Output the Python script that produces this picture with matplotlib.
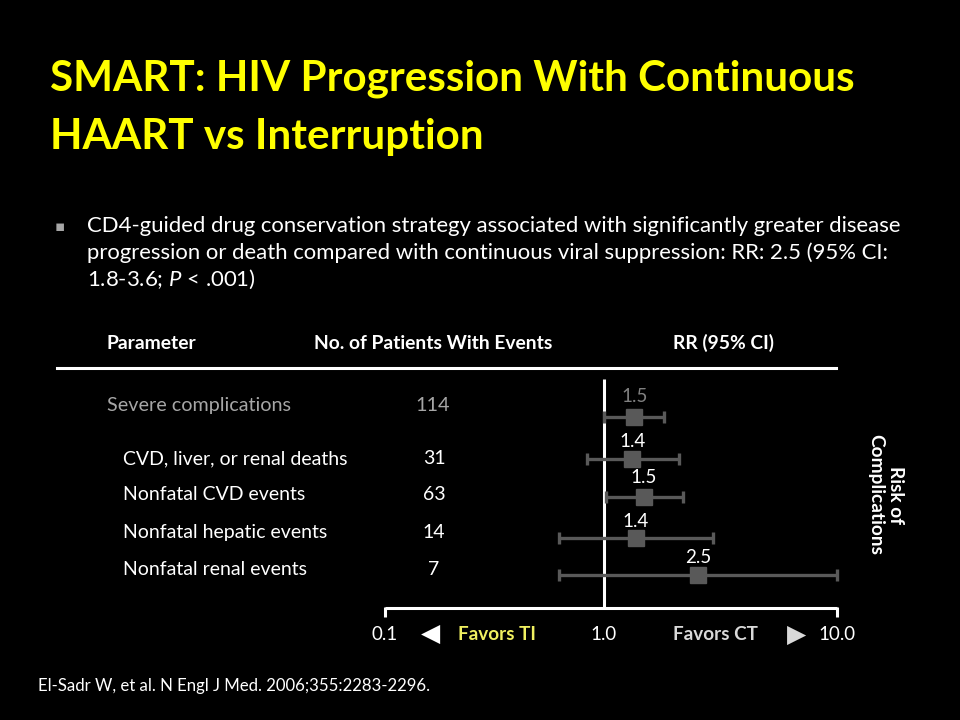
import numpy as np
import matplotlib
matplotlib.use('Agg')  # headless backend
import matplotlib.pyplot as plt
from matplotlib.lines import Line2D

plt.rcParams['font.family'] = ['Lato', 'DejaVu Sans']
plt.rcParams['mathtext.fontset'] = 'custom'
plt.rcParams['mathtext.it'] = 'Lato:italic'
plt.rcParams['mathtext.rm'] = 'Lato'

# data
parameters = ["CVD, liver, or renal deaths", "Nonfatal CVD events",
              "Nonfatal hepatic events", "Nonfatal renal events"]
n_events = ["31", "63", "14", "7"]
overall_name = "Severe complications"
overall_n = "114"
rr_text = ["1.5", "1.4", "1.5", "1.4", "2.5"]          # printed labels
rr = np.array([1.35, 1.32, 1.48, 1.37, 2.53])           # marker positions
ci_low = np.array([1.00, 0.84, 1.02, 0.62, 0.62])
ci_high = np.array([1.81, 2.10, 2.18, 2.94, 10.0])
tick_vals = [0.1, 1.0, 10.0]
tick_text = ["0.1", "1.0", "10.0"]

W, H = 960, 720
YELLOW = '#ffff00'
GREY = '#595959'

def fx(x):
    return x / W

def fy(y):
    return 1 - y / H

# log axis, slightly wider decade on the right like the slide
def fwd(x):
    l = np.log10(np.clip(x, 1e-9, None))
    return np.where(l < 0, l * 219, l * 233)

def inv(p):
    return np.where(p < 0, 10 ** (p / 219), 10 ** (p / 233))

fig = plt.figure(figsize=(9.6, 7.2), dpi=100, facecolor='black')
ax = fig.add_axes([0, 0, 1, 1])
ax.set_facecolor('black')
ax.set_xscale('function', functions=(fwd, inv))
ax.set_xlim(float(inv(-604)), float(inv(W - 604)))
ax.set_ylim(H, 0)
ax.axis('off')

# title
fig.text(fx(50), fy(91), "SMART: HIV Progression With Continuous", color=YELLOW,
         fontsize=30.4, fontweight='bold', va='baseline')
fig.text(fx(50), fy(149), "HAART vs Interruption", color=YELLOW,
         fontsize=30.4, fontweight='bold', va='baseline')

# bullet
fig.text(fx(55), fy(231), "\u25aa", color='#a6a6a6', fontsize=11,
         family=['DejaVu Sans'], va='baseline')
bullet = ["CD4-guided drug conservation strategy associated with significantly greater disease",
          "progression or death compared with continuous viral suppression: RR: 2.5 (95% CI:",
          "1.8-3.6; $P$ < .001)"]
for i, line in enumerate(bullet):
    fig.text(fx(87), fy(232 + 27 * i), line, color='white', fontsize=15.9, va='baseline')

# table header
fig.text(fx(107), fy(349), "Parameter", color='white', fontsize=13.9,
         fontweight='bold', va='baseline')
fig.text(fx(314), fy(349), "No. of Patients With Events", color='white', fontsize=13.9,
         fontweight='bold', va='baseline')
fig.text(fx(673), fy(349), "RR (95% CI)", color='white', fontsize=13.9,
         fontweight='bold', va='baseline')
fig.add_artist(Line2D([fx(57), fx(836)], [fy(368), fy(368)], color='white', lw=2.2))

# rows
row_y = [417, 459, 497, 538, 575]
text_y = [464, 500, 538, 575]
fig.text(fx(107), fy(411), overall_name, color='#a6a6a6', fontsize=14.2, va='baseline')
fig.text(fx(433), fy(411), overall_n, color='#a6a6a6', fontsize=14.2, va='baseline', ha='center')
for name, n, y in zip(parameters, n_events, text_y):
    fig.text(fx(123), fy(y), name, color='white', fontsize=14, va='baseline')
    fig.text(fx(434), fy(y), n, color='white', fontsize=14, va='baseline', ha='center')

# forest plot
ax.plot([1, 1], [379, 608], color='white', lw=2.2, solid_capstyle='butt')
ax.errorbar(rr, row_y, xerr=[rr - ci_low, ci_high - rr], fmt='s', color=GREY,
            ms=11, elinewidth=2.4, capsize=4.5, capthick=2.4)
label_y = [402, 447, 483, 527, 563]
for i, (t, x, y) in enumerate(zip(rr_text, rr, label_y)):
    ax.text(x, y, t, color='#808080' if i == 0 else 'white', fontsize=13.5,
            ha='center', va='baseline')

# x axis
ax.plot([tick_vals[0], tick_vals[-1]], [608, 608], color='white', lw=2.2,
        solid_capstyle='butt')
for v in (tick_vals[0], tick_vals[-1]):
    ax.plot([v, v], [607, 617], color='white', lw=2.2, solid_capstyle='butt')
for v, t in zip(tick_vals, tick_text):
    ax.text(v, 640, t, color='white', fontsize=13.5, ha='center', va='baseline')
fig.text(fx(431), fy(641), "\u25c0", color='white', fontsize=18, ha='center',
         va='baseline', family=['DejaVu Sans'])
fig.text(fx(797), fy(642), "\u25b6", color='#d9d9d9', fontsize=18, ha='center',
         va='baseline', family=['DejaVu Sans'])
fig.text(fx(497), fy(640), "Favors TI", color='#f0f060', fontsize=13.6,
         fontweight='bold', ha='center', va='baseline')
fig.text(fx(715), fy(640), "Favors CT", color='#d9d9d9', fontsize=13.6,
         fontweight='bold', ha='center', va='baseline')

# side label
fig.text(fx(886), fy(495), "Risk of\nComplications", color='white', fontsize=13.8,
         fontweight='bold', rotation=-90, ha='center', va='center', multialignment='center')

# citation
fig.text(fx(38), fy(691), "El-Sadr W, et al. N Engl J Med. 2006;355:2283-2296.",
         color='white', fontsize=12.1, va='baseline')

fig.savefig('out.png', dpi=100, facecolor='black')
